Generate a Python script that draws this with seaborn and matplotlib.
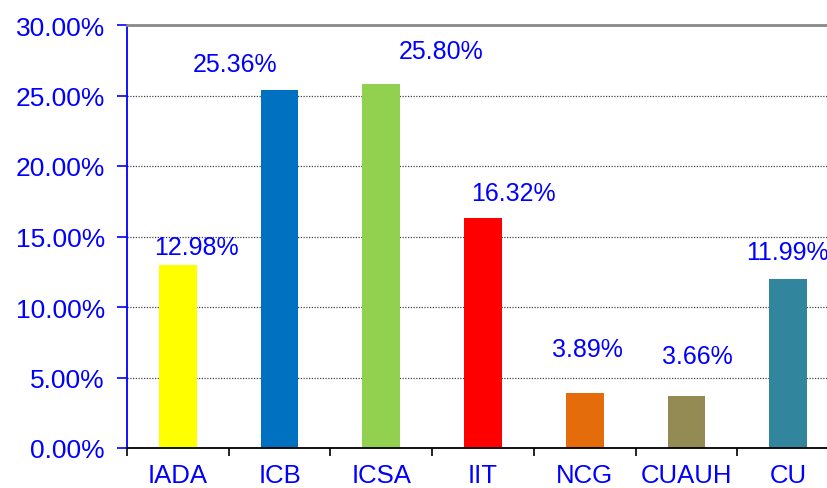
import matplotlib
matplotlib.use("Agg")
import matplotlib.pyplot as plt
import seaborn as sns
import pandas as pd
import numpy as np
from matplotlib.ticker import FixedLocator, FuncFormatter

categories = ["IADA", "ICB", "ICSA", "IIT", "NCG", "CUAUH", "CU"]
values = [12.98, 25.36, 25.80, 16.32, 3.89, 3.66, 11.99]
colors = ["#FFFF00", "#0070C0", "#92D050", "#FF0000", "#E46C0A", "#948A54", "#31859C"]
y_ticks = [0, 5, 10, 15, 20, 25, 30]
# label offsets in pixels (dx, dy) from bar top, style only
label_offsets = [(19, 18), (-45, 26), (60, 33), (30, 25), (3, 44), (11, 40), (-1, 27)]

sns.set_theme(style="white")
plt.rcParams['font.family'] = ['Liberation Sans', 'DejaVu Sans']

df = pd.DataFrame({"cat": categories, "val": values})

fig = plt.figure(figsize=(8.27, 4.89), dpi=100)
ax = fig.add_axes([127/827, 40/489, 712/827, 423/489])

sns.barplot(data=df, x="cat", y="val", hue="cat", palette=colors, legend=False,
            width=0.37, ax=ax, saturation=1, edgecolor="none")

ax.set_ylim(0, 30)
ax.set_xlim(-0.5, len(categories) - 0.5)
ax.yaxis.set_major_locator(FixedLocator(y_ticks))
ax.yaxis.set_major_formatter(FuncFormatter(lambda v, p: f"{v:.2f}%"))
for yt in y_ticks[1:-1]:
    ax.axhline(yt, color="#444444", linestyle=(0, (1, 1.2)), linewidth=0.9, zorder=0)

ax.set_xlabel("")
ax.set_ylabel("")

ax.spines["right"].set_visible(False)
ax.spines["top"].set_color("#888888")
ax.spines["top"].set_linewidth(2)
ax.spines["left"].set_color("#0000FF")
ax.spines["left"].set_linewidth(1.3)
ax.spines["bottom"].set_color("#000000")
ax.spines["bottom"].set_linewidth(1.3)

ax.tick_params(axis="y", which="major", direction="out", length=7, width=1.2,
               color="#0000FF", labelcolor="#0000FF", labelsize=19, pad=9, left=True)
ax.tick_params(axis="x", which="major", length=0, labelcolor="#0000FF", labelsize=18.5, pad=11)
ax.set_xticks(np.arange(-0.5, len(categories), 1.0), minor=True)
ax.tick_params(axis="x", which="minor", direction="out", length=6, width=1.2,
               color="#000000", bottom=True)

for i, (v, (dx, dy)) in enumerate(zip(values, label_offsets)):
    ax.annotate(f"{v:.2f}%", xy=(i, v), xytext=(dx, dy), textcoords="offset pixels",
                ha="center", va="center", color="#0000FF", fontsize=18,
                annotation_clip=False)

fig.savefig("out.png", dpi=100)
